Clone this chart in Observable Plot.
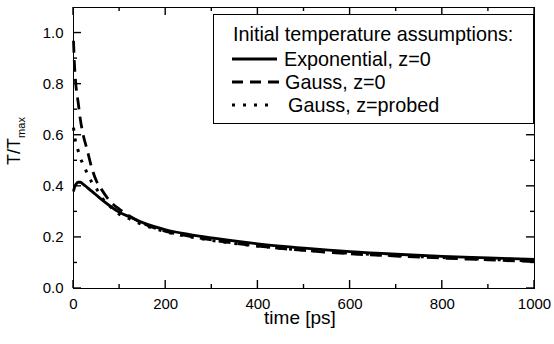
<!DOCTYPE html>
<html>
<head>
<meta charset="utf-8">
<script src="https://cdn.jsdelivr.net/npm/d3@7"></script>
<script src="https://cdn.jsdelivr.net/npm/@observablehq/plot@0.6"></script>
<style>
  html, body { margin: 0; padding: 0; background: #fff; }
  #fig { position: relative; width: 554px; height: 344px; font-family: "Liberation Sans", Arial, sans-serif; }
  #legend { position: absolute; left: 213px; top: 14px; }
</style>
</head>
<body>
<div id="fig"></div>
<script>
// ---- data ----
const time = [0, 2, 5, 10, 15, 20, 30, 40, 50, 60, 80, 100, 125, 150, 200, 250, 300, 400, 500, 600, 700, 800, 900, 1000];
const expZ0 = [0.38, 0.395, 0.407, 0.416, 0.416, 0.41, 0.395, 0.38, 0.365, 0.35, 0.322, 0.298, 0.278, 0.258, 0.23, 0.212, 0.198, 0.175, 0.158, 0.144, 0.134, 0.126, 0.12, 0.114];
const gaussZ0 = [0.97, 0.88, 0.80, 0.73, 0.66, 0.61, 0.54, 0.47, 0.42, 0.39, 0.34, 0.31, 0.28, 0.255, 0.224, 0.205, 0.19, 0.166, 0.149, 0.136, 0.127, 0.119, 0.112, 0.105];
const gaussProbed = [0.63, 0.60, 0.57, 0.54, 0.51, 0.49, 0.45, 0.415, 0.39, 0.36, 0.32, 0.29, 0.27, 0.25, 0.222, 0.203, 0.188, 0.166, 0.15, 0.138, 0.129, 0.121, 0.114, 0.108];
const seriesNames = ["Exponential, z=0", "Gauss, z=0", "Gauss, z=probed"];
const legendTitle = "Initial temperature assumptions:";
const xDomain = [0, 1000];
const yDomain = [0, 1.1];
const xMajorTicks = [0, 200, 400, 600, 800, 1000];
const xMinorTicks = [100, 300, 500, 700, 900];
const yMajorTicks = [0.0, 0.2, 0.4, 0.6, 0.8, 1.0];
const yMinorTicks = [0.1, 0.3, 0.5, 0.7, 0.9];
const xLabel = "time [ps]";
const yLabelMain = "T/T";
const yLabelSub = "max";

// ---- styles / layout ----
const dashes = [null, "12,7", "3,8"];
const legendDashes = [null, "11,7", "3,8"];
const widths = [2.8, 2.8, 3];

const W = 554, H = 344;
const mt = 7, mr = 20, mb = 56, ml = 73;
const majPx = 8, minPx = 4;

const seriesValues = [expZ0, gaussZ0, gaussProbed];
const rows = [];
seriesValues.forEach((vals, s) => vals.forEach((v, i) => rows.push({t: time[i], v, s})));

const lineMarks = seriesValues.map((vals, s) =>
  Plot.line(rows.filter(r => r.s === s), {
    x: "t", y: "v", stroke: "black", strokeWidth: widths[s],
    strokeDasharray: dashes[s] ?? undefined, strokeLinecap: "butt", strokeLinejoin: "round", curve: "monotone-x"
  })
);

const chart = Plot.plot({
  width: W, height: H,
  marginTop: mt, marginRight: mr, marginBottom: mb, marginLeft: ml,
  style: {fontFamily: "'Liberation Sans', Arial, sans-serif", color: "black", background: "white"},
  x: {domain: xDomain},
  y: {domain: yDomain},
  marks: [
    ...lineMarks,
    Plot.axisX(xMajorTicks, {tickSize: 0, tickPadding: 10, fontSize: 15, label: null, tickFormat: d3.format("d")}),
    Plot.axisY(yMajorTicks, {tickSize: 0, tickPadding: 10, fontSize: 15, label: null, tickFormat: d3.format(".1f")}),
    Plot.text([xLabel], {frameAnchor: "bottom", dy: 35, dx: -4, fontSize: 19, fill: "black"}),
    Plot.frame({stroke: "black", strokeWidth: 1})
  ]
});

document.getElementById("fig").appendChild(chart);

const svg = d3.select(chart);
const sx = chart.scale("x"), sy = chart.scale("y");
const X = v => sx.apply(v), Y = v => sy.apply(v);
const x0 = X(xDomain[0]), x1 = X(xDomain[1]), y0 = Y(yDomain[0]), y1 = Y(yDomain[1]);

// inward ticks on all four sides, placed through Plot's scales
const tg = svg.append("g").attr("stroke", "black").attr("stroke-width", 1.4);
function addX(vals, len) {
  vals.forEach(v => {
    const px = X(v);
    tg.append("line").attr("x1", px).attr("x2", px).attr("y1", y0).attr("y2", y0 - len);
    tg.append("line").attr("x1", px).attr("x2", px).attr("y1", y1).attr("y2", y1 + len);
  });
}
function addY(vals, len) {
  vals.forEach(v => {
    const py = Y(v);
    tg.append("line").attr("y1", py).attr("y2", py).attr("x1", x0).attr("x2", x0 + len);
    tg.append("line").attr("y1", py).attr("y2", py).attr("x1", x1).attr("x2", x1 - len);
  });
}
addX(xMajorTicks, majPx); addX(xMinorTicks, minPx);
addY(yMajorTicks, majPx); addY(yMinorTicks, minPx);

// y-axis label with subscript
const yl = svg.append("text")
  .attr("transform", "translate(20,141) rotate(-90)")
  .attr("text-anchor", "middle")
  .attr("font-family", "'Liberation Sans', Arial, sans-serif")
  .attr("font-size", 18)
  .attr("fill", "black");
yl.append("tspan").text(yLabelMain);
yl.append("tspan").attr("font-size", 11).attr("dy", 5).text(yLabelSub);

// legend (inset box, top right)
const lg = d3.select("#fig").append("svg")
  .attr("id", "legend").attr("width", 322).attr("height", 111);
lg.append("rect").attr("x", 0.5).attr("y", 0.5).attr("width", 320).attr("height", 109)
  .attr("fill", "white").attr("stroke", "black");
const lf = "'Liberation Sans', Arial, sans-serif";
lg.append("text").attr("x", 20).attr("y", 27).attr("font-family", lf).attr("font-size", 19.8).text(legendTitle);
const sampleStart = [19, 19, 19], sampleEnd = [64, 67, 58], textX = [71, 72, 75];
seriesNames.forEach((name, i) => {
  const yy = 45 + i * 23;
  lg.append("line").attr("x1", sampleStart[i]).attr("x2", sampleEnd[i]).attr("y1", yy).attr("y2", yy)
    .attr("stroke", "black").attr("stroke-width", widths[i])
    .attr("stroke-dasharray", legendDashes[i]);
  lg.append("text").attr("x", textX[i]).attr("y", yy + 6.5).attr("font-family", lf).attr("font-size", 19.8).text(name);
});
</script>
</body>
</html>
